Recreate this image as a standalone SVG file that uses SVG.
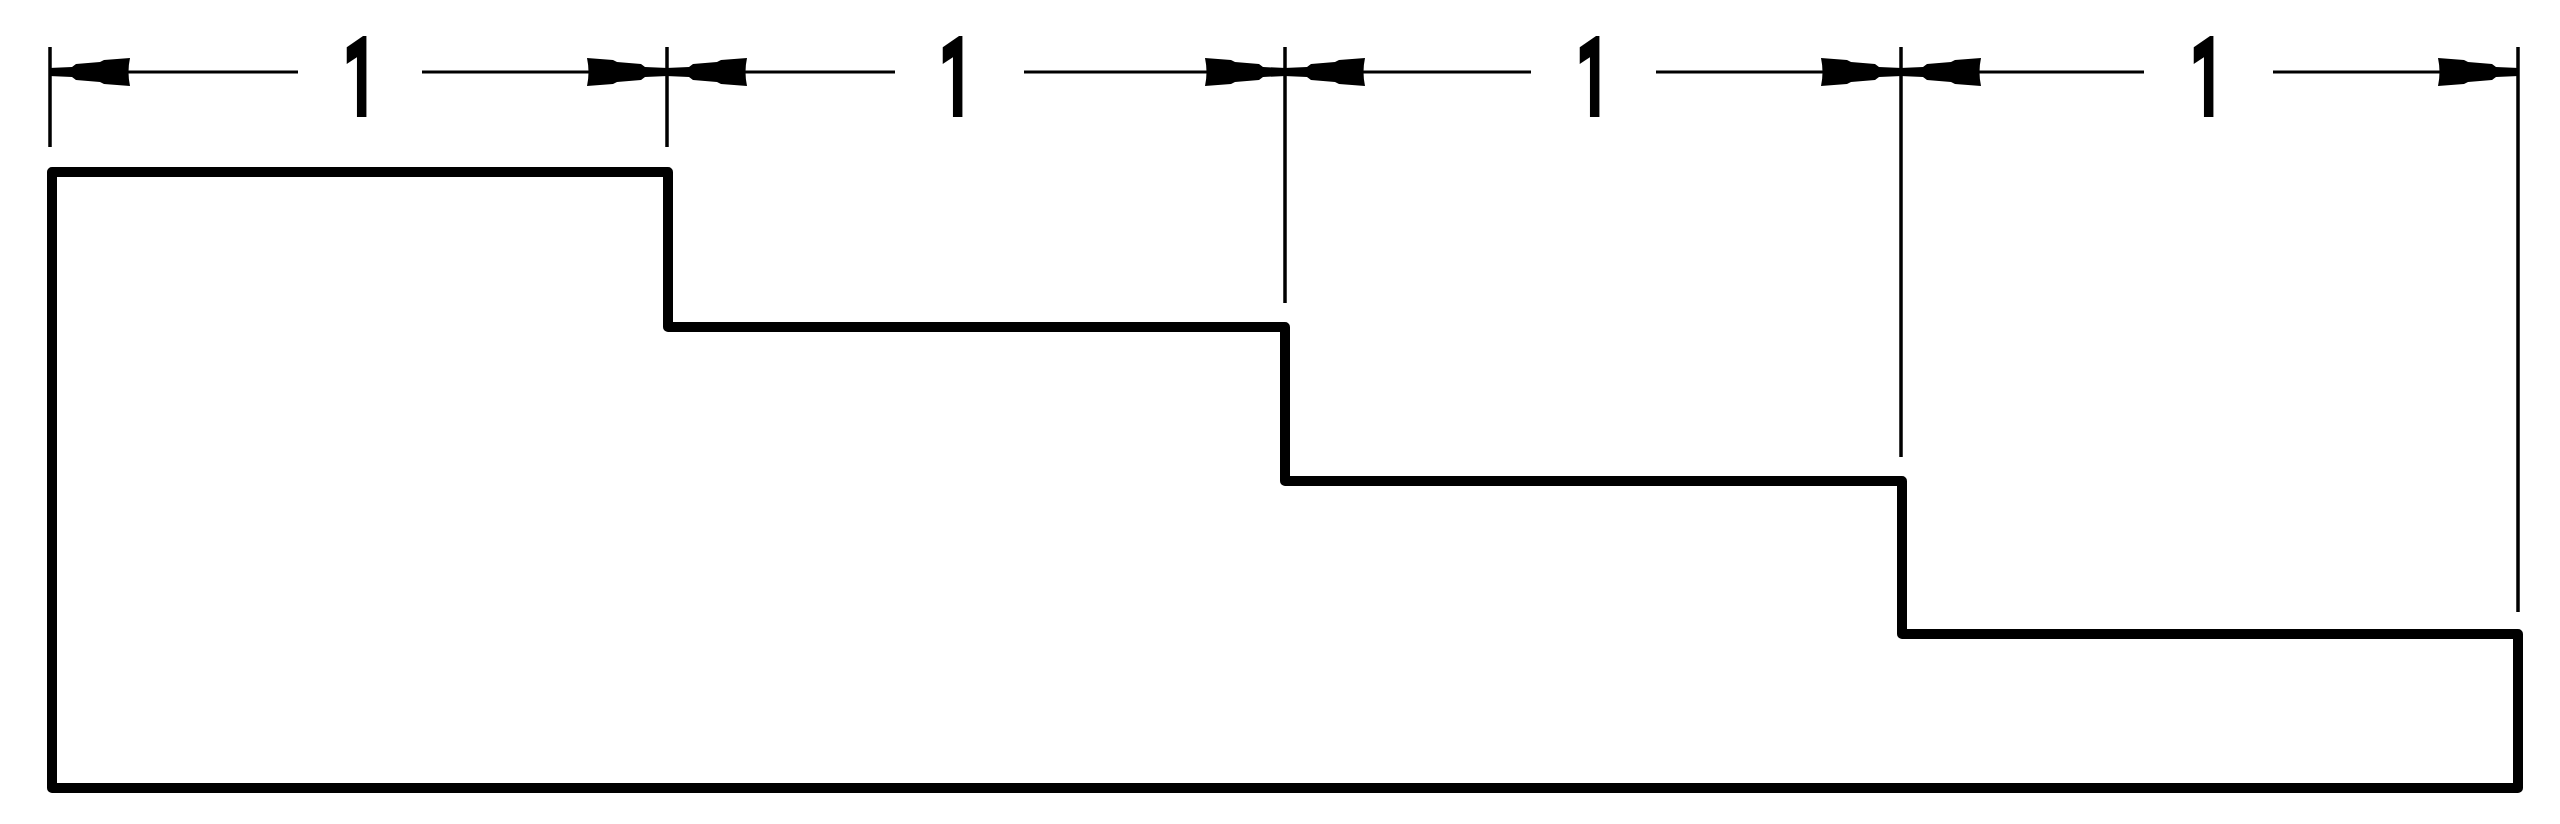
<svg xmlns="http://www.w3.org/2000/svg" width="2560" height="824" viewBox="0 0 2560 824">
<style>
.ext{stroke:#000;stroke-width:3.5;fill:none}
.dim{stroke:#000;stroke-width:3;fill:none}
.outline{stroke:#000;stroke-width:10;fill:none;stroke-linejoin:round}
.lbl{font-family:Roboto,"Liberation Sans",sans-serif;font-size:102px;fill:#000;stroke:#000;stroke-width:8;stroke-linejoin:miter;text-anchor:middle}
</style>
<defs>
<marker id="ah" markerUnits="userSpaceOnUse" viewBox="-84 -16 86 32" refX="0" refY="0" markerWidth="86" markerHeight="32" orient="auto-start-reverse">
<path d="M1,-4 L-22,-5 L-26,-8 L-50,-10 L-54,-12 L-80,-14 Q-77,0 -80,14 L-54,12 L-50,10 L-26,8 L-22,5 L1,4 Z" fill="#000"/>
</marker>
</defs>
<rect width="2560" height="824" fill="#fff"/>
<g id="shape">
<path class="outline" d="M52,172 H668 V327 H1285 V481 H1902 V634 H2518 V788 H52 Z"/>
</g>
<g id="extension-lines">
<line class="ext" x1="50" y1="47" x2="50" y2="147"/>
<line class="ext" x1="667" y1="47" x2="667" y2="147"/>
<line class="ext" x1="1285" y1="47" x2="1285" y2="303"/>
<line class="ext" x1="1901" y1="47" x2="1901" y2="457"/>
<line class="ext" x1="2518" y1="47" x2="2518" y2="612"/>
</g>
<g id="connectors">
<line class="dim" x1="50" y1="72" x2="298" y2="72" marker-start="url(#ah)"/>
<line class="dim" x1="422" y1="72" x2="667" y2="72" marker-end="url(#ah)"/>
<line class="dim" x1="667" y1="72" x2="895" y2="72" marker-start="url(#ah)"/>
<line class="dim" x1="1024" y1="72" x2="1285" y2="72" marker-end="url(#ah)"/>
<line class="dim" x1="1285" y1="72" x2="1531" y2="72" marker-start="url(#ah)"/>
<line class="dim" x1="1656" y1="72" x2="1901" y2="72" marker-end="url(#ah)"/>
<line class="dim" x1="1901" y1="72" x2="2144" y2="72" marker-start="url(#ah)"/>
<line class="dim" x1="2273" y1="72" x2="2518" y2="72" marker-end="url(#ah)"/>
</g>
<g id="labels">
<text class="lbl" transform="translate(360,113) scale(0.55,1)">1</text>
<text class="lbl" transform="translate(956,113) scale(0.55,1)">1</text>
<text class="lbl" transform="translate(1593,113) scale(0.55,1)">1</text>
<text class="lbl" transform="translate(2207,113) scale(0.55,1)">1</text>
</g>
</svg>
